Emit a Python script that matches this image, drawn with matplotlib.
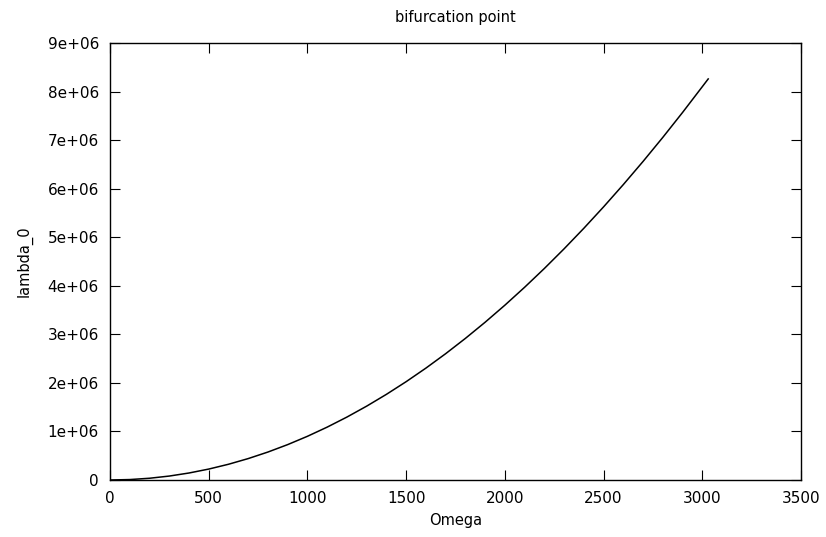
import matplotlib
matplotlib.use("Agg")
import matplotlib.pyplot as plt
from matplotlib.ticker import FuncFormatter

# values
omega = [0, 100, 200, 300, 400, 500, 600, 700, 800, 900, 1000, 1100, 1200, 1300,
         1400, 1500, 1600, 1700, 1800, 1900, 2000, 2100, 2200, 2300, 2400, 2500,
         2600, 2700, 2800, 2900, 3000, 3030]
lambda_0 = [0, 9e3, 36e3, 81e3, 144e3, 225e3, 324e3, 441e3, 576e3, 729e3, 900e3,
            1.089e6, 1.296e6, 1.521e6, 1.764e6, 2.025e6, 2.304e6, 2.601e6, 2.916e6,
            3.249e6, 3.6e6, 3.969e6, 4.356e6, 4.761e6, 5.184e6, 5.625e6, 6.084e6,
            6.561e6, 7.056e6, 7.569e6, 8.1e6, 8.26e6]

x_ticks = [0, 500, 1000, 1500, 2000, 2500, 3000, 3500]
y_ticks = [0, 1e6, 2e6, 3e6, 4e6, 5e6, 6e6, 7e6, 8e6, 9e6]


def gp_fmt(v, pos):
    if v == 0:
        return "0"
    return f"{v:.0e}"


fig = plt.figure(figsize=(8.26, 5.37), dpi=100)
ax = fig.add_axes([110 / 826, 1 - 480 / 537, 691 / 826, 437 / 537])

ax.plot(omega, lambda_0, color="black", linewidth=1.1)

ax.set_xlim(0, 3500)
ax.set_ylim(0, 9e6)
ax.set_xticks(x_ticks)
ax.set_yticks(y_ticks)
ax.yaxis.set_major_formatter(FuncFormatter(gp_fmt))
ax.tick_params(direction="in", top=True, right=True, length=7, labelsize=11, pad=8)
for s in ax.spines.values():
    s.set_linewidth(1.0)

ax.set_title("bifurcation point", fontsize=10.5, pad=15)
ax.set_xlabel("Omega", fontsize=10.5, labelpad=5)
ax.set_ylabel("lambda_0", fontsize=10.5, labelpad=11)

fig.savefig("out.png", dpi=100)
